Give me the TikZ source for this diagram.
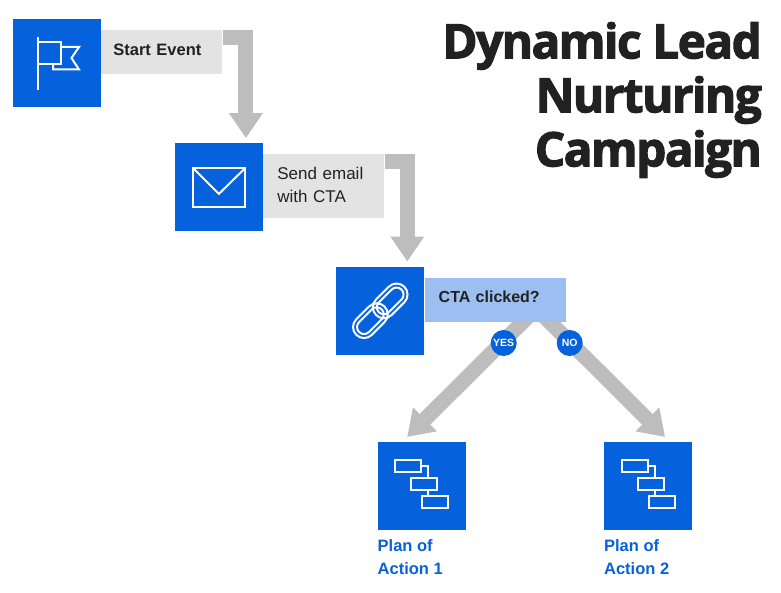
\documentclass[tikz,border=0pt]{standalone}
\usepackage{fontspec}
\setmainfont{Liberation Sans}
\newfontfamily\titlefont[BoldFeatures={FakeBold=2.6}, LetterSpace=-3]{Open Sans}
\usetikzlibrary{arrows.meta}
\usetikzlibrary{positioning}
\usetikzlibrary{backgrounds}
\definecolor{brandblue}{HTML}{0561DC}
\definecolor{softgrey}{HTML}{E3E3E3}
\definecolor{softblue}{HTML}{9DBEF0}
\definecolor{arrowgrey}{HTML}{BDBDBD}
\definecolor{inkdark}{HTML}{212121}

\begin{document}
\begin{tikzpicture}[
        x=1pt, y=1pt,
        node distance=0pt,
        iconbox/.style={rectangle, fill=brandblue, minimum size=88pt, inner sep=0pt},
        caption/.style={rectangle, fill=softgrey, anchor=north west, minimum height=44pt,
          inner xsep=12pt, inner ysep=0pt, text width=97pt, align=left, text=inkdark,
          text depth=6pt, font=\fontsize{16.5}{23}\selectfont},
        badge/.style={circle, fill=brandblue, minimum size=26pt, inner sep=0pt, text=white,
          font=\fontsize{10.5}{11}\selectfont\bfseries},
        planlabel/.style={anchor=north west, inner sep=0pt, align=left, text=brandblue,
          font=\fontsize{16.5}{23}\selectfont\bfseries},
        arrow/.style={-{Triangle[length=25pt, width=32pt]}, line width=15pt, draw=arrowgrey},
        iconline/.style={draw=white, line width=2pt},
        planicon/.pic={
          \draw[iconline] (-26.5,-26) rectangle (-0.5,-14);
          \draw[iconline] (-10.5,-8) rectangle (15.5,4);
          \draw[iconline] (0.5,10) rectangle (26.5,22);
          \draw[iconline] (-0.5,-20) -| (6.5,-8);
          \draw[iconline] (6.5,4) -- (6.5,10);
        },
      ]
      \useasboundingbox (0,0) rectangle (781,-593);

      % Title
      \node[anchor=north east, inner sep=0pt, align=right, text=inkdark,
        font=\fontsize{47.5}{54}\titlefont\bfseries] (title) at (762,-22) {Dynamic Lead\\Nurturing\\Campaign};

      % Step 1: Start event
      \node[iconbox] (start) at (57,-63.5) {};
      \node[caption, yshift=-11pt, font=\fontsize{16.5}{23}\selectfont\bfseries] (startlbl) at (start.north east) {Start Event};

      % Step 2: Email
      \node[iconbox, below right=35.5pt and 73.5pt of start] (email) {};
      \node[caption, yshift=-11pt, minimum height=64pt, inner xsep=14pt, text width=93pt,
        text depth=27pt, font=\fontsize{17}{23}\selectfont] (emaillbl) at (email.north east) {Send email\\with CTA};

      % Step 3: Click check
      \node[iconbox, below right=35pt and 73pt of email] (click) {};
      \node[caption, yshift=-11pt, fill=softblue, text width=113pt, inner xsep=14pt,
        font=\fontsize{16}{23}\selectfont\bfseries] (clicklbl) at (click.north east) {CTA clicked?};

      % Plans
      \node[iconbox, below right=87pt and -47pt of click] (plana) {};
      \node[iconbox, right=138pt of plana] (planb) {};
      \node[planlabel, yshift=-9pt] (planalbl) at (plana.south west) {Plan of\\Action 1};
      \node[planlabel, yshift=-9pt] (planblbl) at (planb.south west) {Plan of\\Action 2};

      % Free ends of the arrows
      \coordinate (yesstart) at ([xshift=37.5pt, yshift=10pt]clicklbl.south);
      \coordinate (nostart) at ([xshift=44.5pt, yshift=10pt]clicklbl.south);
      \coordinate (yesend) at ([xshift=-14.5pt, yshift=5pt]plana.north);
      \coordinate (noend) at ([xshift=17pt, yshift=5pt]planb.north);

      % Arrows
      \begin{scope}[on background layer]
        \draw[arrow] ([yshift=-7.5pt]startlbl.north east) -| ([xshift=27pt, yshift=5pt]email.north);
        \draw[arrow] ([yshift=-7.5pt]emaillbl.north east) -| ([xshift=27pt, yshift=5pt]click.north);
        \draw[arrow] (yesstart) -- (yesend);
        \draw[arrow] (nostart) -- (noend);
      \end{scope}

      % Badges
      \node[badge] (yes) at ([xshift=8.5pt, yshift=-21pt]clicklbl.south) {YES};
      \node[badge] (no) at ([xshift=74.5pt, yshift=-21pt]clicklbl.south) {NO};

      % Flag icon
      \begin{scope}[shift={(start.center)}]
        \draw[iconline] (-19,26.5) -- (-19,-26.5);
        \draw[iconline] (-19,21.5) -- (3.5,21.5) -- (3.5,-0.5) -- (-19,-0.5);
        \draw[iconline] (3.5,16.5) -- (22,16.5) -- (14.5,5.5) -- (22,-6) -- (-4,-6) -- (-4,-0.5);
      \end{scope}

      % Envelope icon
      \begin{scope}[shift={(email.center)}]
        \draw[iconline] (-26,19.5) rectangle (26.5,-20);
        \draw[iconline] (-26,19.5) -- (0,-6.5) -- (26.5,19.5);
      \end{scope}

      % Link icon
      \begin{scope}[shift={(click.center)}, rotate=45]
        \draw[iconline, rounded corners=11pt] (-34,-11) rectangle (6,11);
        \draw[iconline, rounded corners=7pt] (-30,-7) rectangle (2,7);
        \draw[iconline, rounded corners=11pt] (-6,-11) rectangle (34,11);
        \draw[iconline, rounded corners=7pt] (-2,-7) rectangle (30,7);
      \end{scope}

      % Plan icons
      \pic[yscale=-1] at (plana.center) {planicon};
      \pic[yscale=-1] at (planb.center) {planicon};

      \end{tikzpicture}
\end{document}
